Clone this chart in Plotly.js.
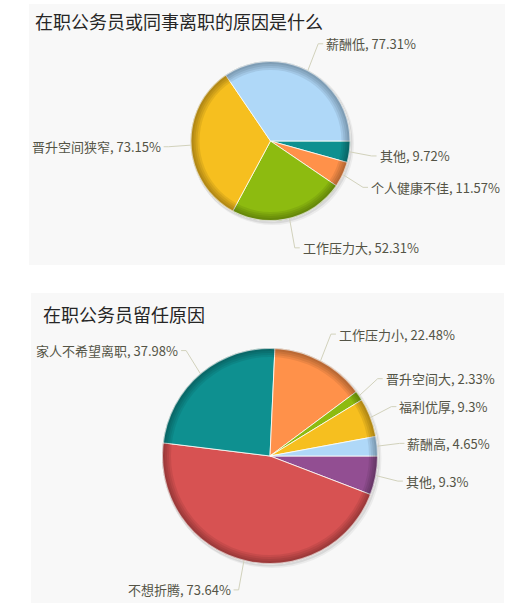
<!DOCTYPE html>
<html>
<head>
<meta charset="utf-8">
<script src="https://cdn.plot.ly/plotly-3.0.1.min.js"></script>
<style>
  html, body { margin: 0; padding: 0; background: #fff; overflow: hidden; }
  #chart { width: 531px; height: 613px; }
</style>
</head>
<body>
<div id="chart"></div>
<script>
// 离职原因 (从3点钟方向开始, 逆时针)
var leaveTitle = "在职公务员或同事离职的原因是什么";
var leaveLabels = ["薪酬低", "晋升空间狭窄", "工作压力大", "个人健康不佳", "其他"];
var leaveValues = [77.31, 73.15, 52.31, 11.57, 9.72];
var leaveColors = ["#AFD8F8", "#F6BF1F", "#8DBB10", "#FF914A", "#0E9090"];

// 留任原因
var stayTitle = "在职公务员留任原因";
var stayLabels = ["薪酬高", "福利优厚", "晋升空间大", "工作压力小", "家人不希望离职", "不想折腾", "其他"];
var stayValues = [4.65, 9.3, 2.33, 22.48, 37.98, 73.64, 9.3];
var stayColors = ["#AFD8F8", "#F6BF1F", "#8DBB10", "#FF914A", "#0E9090", "#D75252", "#924E92"];

var W = 531, H = 613;
var FONT = "'Noto Sans CJK SC', 'Noto Sans', sans-serif";
var LINE_COLOR = "#D2D2BC";
var TEXT_COLOR = "#545446";

function px(x) { return x / W; }
function py(y) { return 1 - y / H; }

// 每个饼图的位置 (像素)
var charts = [
  { title: leaveTitle, labels: leaveLabels, values: leaveValues, colors: leaveColors,
    cx: 270.5, cy: 141, r: 80, panel: [29, 4, 505, 265], titleAt: [33, 21] },
  { title: stayTitle, labels: stayLabels, values: stayValues, colors: stayColors,
    cx: 270, cy: 456, r: 108, panel: [31, 293, 504, 603], titleAt: [41, 314] }
];

var data = [];
var shapes = [];
var annotations = [];

function domainFor(cx, cy, r) {
  return { x: [px(cx - r), px(cx + r)], y: [py(cy + r), py(cy - r)] };
}

function ring(dom, hole, color) {
  return {
    type: "pie", values: [1], domain: dom, hole: hole, sort: false,
    textinfo: "none", hoverinfo: "skip", showlegend: false,
    marker: { colors: [color], line: { width: 0 } }
  };
}

charts.forEach(function (c) {
  // 背景面板
  shapes.push({
    type: "rect", xref: "paper", yref: "paper", layer: "below",
    x0: px(c.panel[0]), x1: px(c.panel[2]), y0: py(c.panel[3]), y1: py(c.panel[1]),
    fillcolor: "#F8F8F8", line: { width: 0 }
  });

  annotations.push({
    xref: "paper", yref: "paper", x: px(c.titleAt[0]), y: py(c.titleAt[1]),
    xanchor: "left", yanchor: "middle", showarrow: false, text: c.title,
    font: { family: FONT, size: 18, color: "#262626" }
  });

  // 阴影
  data.push(ring(domainFor(c.cx + 2, c.cy + 2.5, c.r + 1.5), 0, "rgba(0,0,0,0.05)"));
  data.push(ring(domainFor(c.cx + 1, c.cy + 1.5, c.r + 1), 0, "rgba(0,0,0,0.08)"));

  var dom = domainFor(c.cx, c.cy, c.r);
  // 顺时针画反转后的数据 = 从3点钟逆时针画原顺序
  data.push({
    type: "pie",
    labels: c.labels.slice().reverse(),
    values: c.values.slice().reverse(),
    domain: dom, sort: false, direction: "clockwise", rotation: 90,
    textinfo: "none", hoverinfo: "label+value", showlegend: false,
    marker: { colors: c.colors.slice().reverse(), line: { color: "rgba(255,255,250,0.8)", width: 1 } }
  });

  // 边缘立体效果
  [9, 7, 5, 3].forEach(function (w) {
    data.push(ring(dom, (c.r - w) / c.r, "rgba(0,0,0,0.075)"));
  });
  data.push(ring(dom, (c.r - 1) / c.r, "rgba(255,255,255,0.55)"));

  // 标签与引导线
  var total = c.values.reduce(function (a, b) { return a + b; }, 0);
  var acc = 0;
  var items = c.values.map(function (v, i) {
    var mid = (acc + v / 2) / total * 2 * Math.PI;
    acc += v;
    var cos = Math.cos(mid), sin = Math.sin(mid);
    var R2 = c.r + 30;
    return {
      text: c.labels[i] + ", " + v + "%",
      ex: c.cx + c.r * cos, ey: c.cy - c.r * sin,
      bx: c.cx + (c.r + 22) * cos, by: c.cy - R2 * sin,
      right: cos >= 0
    };
  });

  [true, false].forEach(function (side) {
    var grp = items.filter(function (it) { return it.right === side; })
      .sort(function (a, b) { return a.by - b.by; });
    for (var k = 1; k < grp.length; k++) {
      if (grp[k].by - grp[k - 1].by < 18) grp[k].by = grp[k - 1].by + 18;
    }
  });

  items.forEach(function (it) {
    var dir = it.right ? 1 : -1;
    var tx = it.bx + dir * 5;
    shapes.push({
      type: "path", xref: "paper", yref: "paper", layer: "above",
      path: "M" + px(it.ex) + "," + py(it.ey) + " L" + px(it.bx) + "," + py(it.by) +
            " L" + px(tx) + "," + py(it.by),
      line: { color: LINE_COLOR, width: 1 }
    });
    annotations.push({
      xref: "paper", yref: "paper", x: px(tx + dir * 1), y: py(it.by),
      xanchor: it.right ? "left" : "right", yanchor: "middle", showarrow: false,
      text: it.text, font: { family: FONT, size: 13, color: TEXT_COLOR }
    });
  });
});

var layout = {
  width: W, height: H,
  margin: { l: 0, r: 0, t: 0, b: 0 },
  paper_bgcolor: "#FFFFFF",
  showlegend: false,
  shapes: shapes,
  annotations: annotations
};

Plotly.newPlot("chart", data, layout, { staticPlot: true, displayModeBar: false });
</script>
</body>
</html>
